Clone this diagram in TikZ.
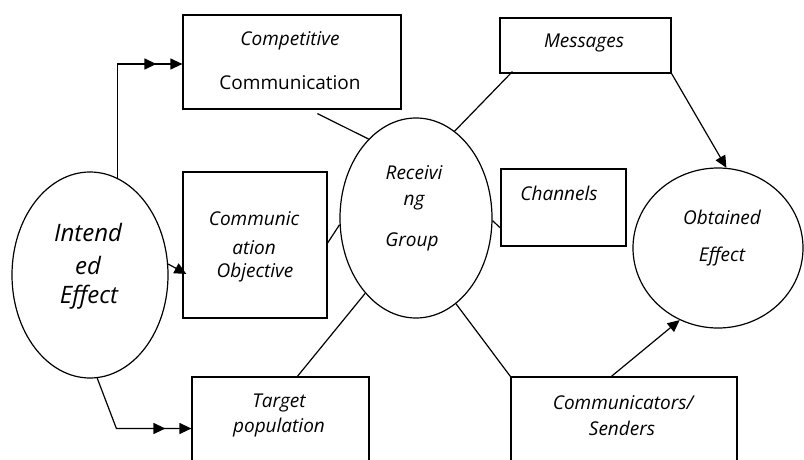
\documentclass[tikz,border=0pt]{standalone}
\usepackage{fontspec}
\setmainfont{Open Sans}
\usetikzlibrary{shapes.geometric,arrows.meta,decorations.markings,calc}

\begin{document}
\begin{tikzpicture}[x=1pt,y=-1pt,line width=1.2pt,
  box/.style={draw,rectangle,inner sep=0pt},
  oval/.style={draw,ellipse,inner sep=0pt},
  lbl/.style={inner sep=0pt,font=\fontsize{19}{22}\selectfont\itshape},
  lblup/.style={inner sep=0pt,font=\fontsize{19}{22}\selectfont},
  biglbl/.style={inner sep=0pt,font=\fontsize{24}{28}\selectfont\itshape},
  tip/.style={-{Triangle[length=12pt,width=11pt]}},
  dbltip/.style={tip,postaction={decorate},
    decoration={markings,mark=at position -26pt with {\arrow{Triangle[length=12pt,width=11pt]}}}}]
\useasboundingbox (0,0) rectangle (804,460);
\clip (0,0) rectangle (804,460);

% shapes
\node[box,minimum width=218pt,minimum height=94pt] (comp) at (292,62) {};
\node[box,minimum width=144pt,minimum height=146pt] (co) at (255,245) {};
\node[box,minimum width=171pt,minimum height=55pt] (msg) at (585.5,45.5) {};
\node[box,minimum width=125pt,minimum height=77pt] (ch) at (563.5,207.5) {};
\node[box,minimum width=177pt,minimum height=103pt] (tp) at (280.5,428.5) {};
\node[box,minimum width=226pt,minimum height=103pt] (cs) at (624,428.5) {};
\node[oval,minimum width=156pt,minimum height=206pt] (ie) at (90,275) {};
\node[oval,minimum width=152pt,minimum height=200pt] (rg) at (416,218) {};
\node[oval,minimum width=170pt,minimum height=160pt] (ob) at (718,248) {};

% texts
\node[lbl] (t1) at (290,41) {Competitive};
\node[lblup] (t2) at (290,83) {Communication};
\node[lbl] (t3) at (254,219) {Communic};
\node[lbl] (t4) at (254,248) {ation};
\node[lbl] (t5) at (255,273) {Objective};
\node[biglbl] (t6) at (88,232) {Intend};
\node[biglbl] (t7) at (88,265) {ed};
\node[biglbl] (t8) at (89,297) {Effect};
\node[lbl] (t9) at (414,173) {Receivi};
\node[lbl] (t10) at (414,203) {ng};
\node[lbl] (t11) at (412,242) {Group};
\node[lbl] (t12) at (584,43) {Messages};
\node[lbl] (t13) at (559,193) {Channels};
\node[lbl] (t14) at (722,217) {Obtained};
\node[lbl] (t15) at (722,257) {Effect};
\node[lbl] (t16) at (279,403) {Target};
\node[lbl] (t17) at (279,428) {population};
\node[lbl] (t18) at (623,403) {Communicators/};
\node[lbl] (t19) at (622,428) {Senders};

% plain connectors
\draw ([xshift=135pt,yshift=-4pt]comp.south west) -- (rg.121);
\draw ([xshift=13pt,yshift=2pt]msg.south west) -- (rg.66);
\draw (rg.-2) -- ([yshift=-20.5pt]ch.west);
\draw (rg.185) -- ([yshift=2pt]co.east);
\draw (rg.236) -- ([xshift=106pt]tp.north west);
\draw (rg.-65) -- (cs.north west);

% arrows
\draw[tip] (msg.south east) -- (ob.84);
\draw[tip] ([xshift=101pt]cs.north west) -- (ob.242);
\draw[tip] (ie.8) -- ([xshift=4pt,yshift=-29pt]co.west);
\draw[dbltip] (ie.74) |- ([yshift=-2pt]comp.west);
\draw[dbltip] (ie.-86) -- ([xshift=-75pt]tp.west) -- (tp.west);
\end{tikzpicture}
\end{document}
